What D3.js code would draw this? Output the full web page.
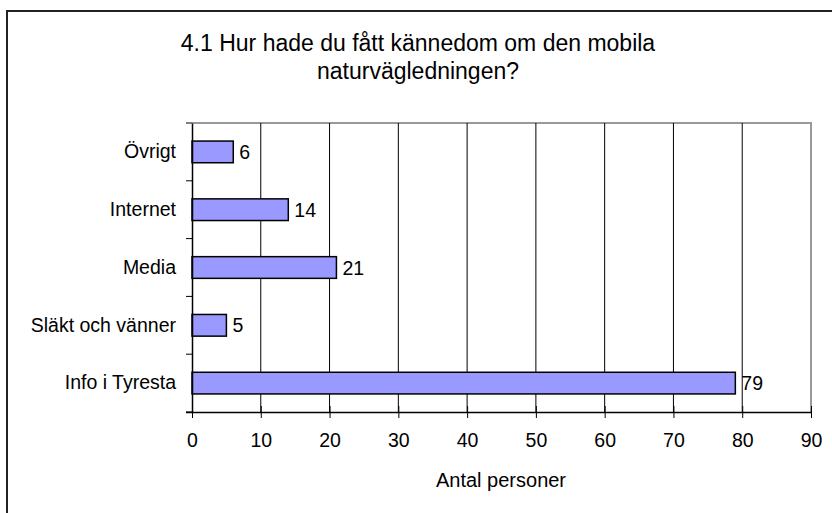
<!DOCTYPE html>
<html><head><meta charset="utf-8">
<script src="https://cdn.jsdelivr.net/npm/d3@7"></script>
<style>body{margin:0;background:#fff}svg{display:block;font-family:"Liberation Sans",Arial,sans-serif}</style>
</head><body><svg id="c" width="832" height="513"></svg>
<script>
const categories = ["Övrigt","Internet","Media","Släkt och vänner","Info i Tyresta"];
const values = [6,14,21,5,79];
const xTicks = [0,10,20,30,40,50,60,70,80,90];
const titleLines = ["4.1 Hur hade du fått kännedom om den mobila","naturvägledningen?"];
const xTitle = "Antal personer";

const svg = d3.select("#c");
const L=192,R=811,T=123,B=412;
const FS=19.5;
svg.append("rect").attr("x",7).attr("y",11).attr("width",900).attr("height",600)
  .attr("fill","none").attr("stroke","#222").attr("stroke-width",2);

const x = d3.scaleLinear().domain([0,90]).range([L,R]);
const y = d3.scaleBand().domain(categories).range([T,B]).paddingInner(0.625).paddingOuter(0.3125);
const yb = d3.scaleBand().domain(categories).range([T,B]);

svg.append("path").attr("d",`M${L},${T}H${R}V${B}`).attr("fill","none").attr("stroke","#999").attr("stroke-width",2);
svg.append("g").selectAll("line").data(xTicks.slice(1,-1)).join("line")
  .attr("x1",d=>x(d)).attr("x2",d=>x(d)).attr("y1",T).attr("y2",B).attr("stroke","#000").attr("stroke-width",1);

svg.append("g").selectAll("rect").data(values).join("rect")
  .attr("x",x(0)).attr("y",(d,i)=>y(categories[i]))
  .attr("width",d=>x(d)-x(0)).attr("height",y.bandwidth())
  .attr("fill","#9999ff").attr("stroke","#000").attr("stroke-width",1.5);
svg.append("g").selectAll("text").data(values).join("text")
  .attr("x",d=>x(d)+6).attr("y",(d,i)=>y(categories[i])+y.bandwidth()/2).attr("dy","0.36em")
  .attr("font-size",FS).text(d=>d);

const xa = svg.append("g").attr("transform",`translate(0,${B})`)
  .call(d3.axisBottom(x).tickValues(xTicks).tickSize(6).tickSizeOuter(0).tickPadding(15));
xa.select(".domain").attr("stroke","#000").attr("stroke-width",1.5).attr("d",`M${L-6},0.5H${R}`);
xa.selectAll(".tick line").attr("stroke","#000").attr("y1",-6);
xa.selectAll("text").attr("font-size",FS).attr("font-family","Liberation Sans, Arial, sans-serif").attr("fill","#000");

const ya = svg.append("g").attr("transform",`translate(${L},0)`)
  .call(d3.axisLeft(yb).tickSize(0).tickPadding(16));
ya.select(".domain").attr("stroke","#000").attr("stroke-width",1.5);
ya.selectAll("text").attr("font-size",FS).attr("font-family","Liberation Sans, Arial, sans-serif").attr("fill","#000");
svg.append("g").selectAll("line").data([T,...categories.map(c=>yb(c)+yb.bandwidth())]).join("line")
  .attr("x1",L-6).attr("x2",L).attr("y1",d=>d).attr("y2",d=>d).attr("stroke","#000");

svg.append("text").attr("x",501).attr("y",487).attr("text-anchor","middle").attr("font-size",20).text(xTitle);

svg.append("g").selectAll("text").data(titleLines).join("text")
  .attr("x",418).attr("y",(d,i)=>51+i*28).attr("text-anchor","middle").attr("font-size",23).text(d=>d);
</script></body></html>
